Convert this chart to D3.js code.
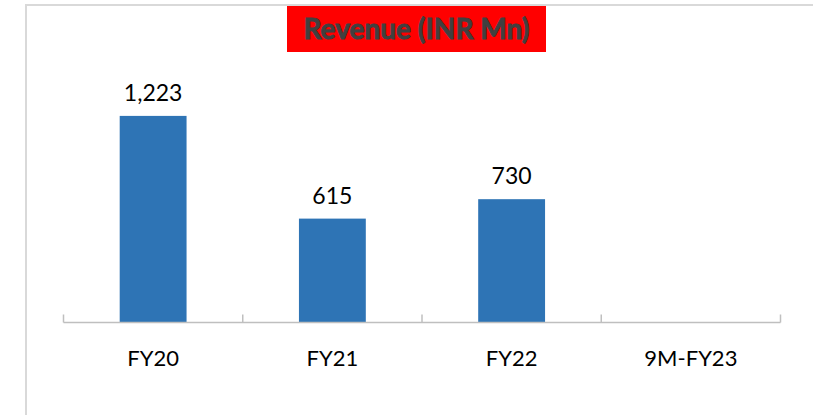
<!DOCTYPE html>
<html>
<head>
<meta charset="utf-8">
<script src="https://cdn.jsdelivr.net/npm/d3@7"></script>
<style>
  body { margin: 0; background: #fff; }
  svg { display: block; font-family: Lato, "Open Sans", sans-serif; }
</style>
</head>
<body>
<div id="chart"></div>
<script>
const categories = ["FY20", "FY21", "FY22", "9M-FY23"];
const revenue = [1223, 615, 730, null];
const title = "Revenue (INR Mn)";

const width = 813;
const height = 415;

const svg = d3
  .select("#chart")
  .append("svg")
  .attr("width", width)
  .attr("height", height);

// chart frame (only left + top edges are visible)
svg
  .append("rect")
  .attr("x", 26)
  .attr("y", 5)
  .attr("width", width + 20)
  .attr("height", height + 20)
  .attr("fill", "none")
  .attr("stroke", "#d9d9d9")
  .attr("stroke-width", 2);

const xScale = d3.scaleBand().domain(categories).range([63.5, 780.5]);
const yScale = d3.scaleLinear().domain([0, 1400]).range([322.5, 86]);
const barW = xScale.bandwidth() * 0.373;

const data = categories.map((c, i) => ({ cat: c, value: revenue[i] }));
const withValue = data.filter((d) => d.value != null);

svg
  .selectAll(".bar")
  .data(withValue)
  .enter()
  .append("rect")
  .attr("class", "bar")
  .attr("x", (d) => xScale(d.cat) + xScale.bandwidth() / 2 - barW / 2)
  .attr("y", (d) => yScale(d.value))
  .attr("width", barW)
  .attr("height", (d) => yScale(0) - yScale(d.value))
  .attr("fill", "#2e74b5");

svg
  .selectAll(".label")
  .data(withValue)
  .enter()
  .append("text")
  .attr("class", "label")
  .attr("x", (d) => xScale(d.cat) + xScale.bandwidth() / 2)
  .attr("y", (d) => yScale(d.value) - 15)
  .attr("text-anchor", "middle")
  .attr("font-size", "23px")
  .attr("fill", "#000")
  .text((d) => d3.format(",")(d.value));

// category axis, ticks between bands pointing up
const axis = svg.append("g").attr("transform", `translate(0, ${yScale(0)})`);
axis
  .append("line")
  .attr("x1", xScale.range()[0])
  .attr("x2", xScale.range()[1])
  .attr("stroke", "#bfbfbf")
  .attr("stroke-width", 1.5);

const tickPos = categories.map((c) => xScale(c)).concat([xScale.range()[1]]);
axis
  .selectAll(".tick")
  .data(tickPos)
  .enter()
  .append("line")
  .attr("x1", (d) => d)
  .attr("x2", (d) => d)
  .attr("y1", 0)
  .attr("y2", -8)
  .attr("stroke", "#bfbfbf")
  .attr("stroke-width", 1.5);

axis
  .selectAll(".cat")
  .data(categories)
  .enter()
  .append("text")
  .attr("x", (d) => xScale(d) + xScale.bandwidth() / 2)
  .attr("y", 43.5)
  .attr("text-anchor", "middle")
  .attr("font-size", "22px")
  .attr("fill", "#000")
  .text((d) => d);

// title box
const tg = svg.append("g");
tg.append("rect")
  .attr("x", 287)
  .attr("y", 6)
  .attr("width", 259)
  .attr("height", 46)
  .attr("fill", "#ff0000");
tg.append("text")
  .attr("x", 416.5)
  .attr("y", 38.5)
  .attr("text-anchor", "middle")
  .attr("font-size", "28px")
  .attr("font-weight", "bold")
  .attr("fill", "#404040")
  .attr("stroke", "#404040")
  .attr("stroke-width", 0.9)
  .text(title);
</script>
</body>
</html>
